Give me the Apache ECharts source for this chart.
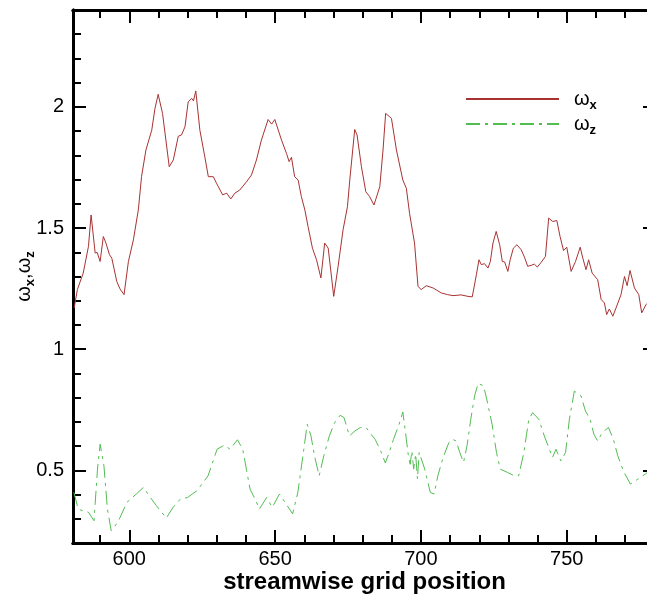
<!DOCTYPE html>
<html><head><meta charset="utf-8">
<script src="https://cdn.jsdelivr.net/npm/echarts@6/dist/echarts.min.js"></script>
<style>html,body{margin:0;padding:0;background:#fff}#c{width:647px;height:595px}</style>
</head><body><div id="c"></div>
<script>
// ---- data ----
const redX = [581.1,582.2,584.2,586.0,586.9,588.3,589.0,590.0,591.1,592.0,593.2,594.0,595.7,596.8,598.2,599.7,601.4,603.1,604.2,605.7,607.7,608.8,609.9,611.4,613.7,615.1,616.8,617.9,619.1,620.2,621.4,622.0,622.8,624.2,625.9,627.1,628.8,629.9,632.0,633.4,634.8,636.2,637.9,640.2,641.9,643.6,645.3,647.6,648.8,649.9,652.2,653.9,654.8,655.6,656.7,657.9,659.0,660.2,661.3,662.8,664.2,665.7,667.0,668.2,670.1,671.6,673.3,674.8,675.6,677.3,678.1,679.6,681.1,682.4,683.9,685.9,687.0,687.9,689.2,689.9,691.6,693.8,695.0,696.1,697.8,699.0,700.1,701.8,704.1,707.0,709.2,711.0,713.8,716.1,717.6,719.0,719.9,720.7,721.8,723.0,723.8,724.7,725.8,727.0,727.9,728.7,729.8,730.6,731.7,732.9,734.4,735.5,736.6,737.8,738.9,739.9,741.2,742.7,743.8,745.2,746.6,747.7,748.9,750.0,751.5,753.0,754.6,755.5,756.6,757.5,758.7,760.6,761.8,762.9,763.7,764.6,765.8,766.9,768.6,769.8,770.7,771.7,773.2,774.7,775.7,777.2,778.5];
const redY = [1.17,1.246,1.314,1.424,1.554,1.397,1.399,1.362,1.465,1.438,1.390,1.376,1.280,1.249,1.225,1.362,1.451,1.575,1.712,1.822,1.904,1.993,2.052,1.973,1.753,1.781,1.879,1.884,1.918,2.021,2.035,2.025,2.066,1.904,1.794,1.712,1.712,1.685,1.637,1.644,1.620,1.644,1.657,1.691,1.719,1.781,1.863,1.948,1.929,1.948,1.863,1.808,1.774,1.792,1.712,1.698,1.630,1.575,1.506,1.417,1.369,1.294,1.438,1.417,1.218,1.342,1.493,1.588,1.698,1.907,1.884,1.753,1.650,1.630,1.595,1.671,1.822,1.973,1.960,1.952,1.822,1.698,1.664,1.561,1.438,1.259,1.246,1.262,1.253,1.232,1.225,1.221,1.224,1.218,1.216,1.307,1.369,1.349,1.353,1.335,1.362,1.438,1.486,1.431,1.362,1.360,1.321,1.369,1.417,1.431,1.410,1.380,1.342,1.346,1.351,1.339,1.358,1.383,1.541,1.527,1.531,1.465,1.407,1.421,1.321,1.362,1.421,1.376,1.328,1.369,1.314,1.287,1.205,1.191,1.143,1.166,1.136,1.170,1.225,1.300,1.262,1.325,1.253,1.225,1.150,1.184,1.20];
const greenX = [581.0,582.5,584.1,586.0,587.9,589.1,590.0,591.3,592.5,593.8,596.1,599.2,602.4,604.9,606.8,609.3,612.7,615.0,617.5,620.0,623.2,627.0,630.1,632.6,634.5,637.1,638.9,641.4,643.4,644.6,647.1,649.0,651.5,653.4,656.0,657.8,659.7,661.0,662.3,663.5,665.1,666.7,668.6,670.4,672.3,673.6,675.5,677.4,679.3,681.2,682.4,684.3,686.2,687.8,689.1,690.6,692.5,693.8,694.7,695.7,696.3,696.9,697.5,698.2,698.8,699.4,701.3,703.2,704.5,705.8,707.6,709.6,710.8,712.1,713.3,714.6,715.8,717.1,718.4,719.6,721.5,722.7,724.4,725.9,727.2,729.7,731.6,733.5,735.3,737.0,738.3,740.4,742.3,743.6,745.1,746.3,748.0,749.6,750.9,752.6,754.9,756.4,758.0,759.3,760.6,762.2,764.3,766.0,767.5,769.4,771.8,774.4,776.9,778.5];
const greenY = [0.409,0.340,0.333,0.327,0.292,0.505,0.608,0.519,0.340,0.251,0.286,0.368,0.402,0.430,0.395,0.354,0.303,0.347,0.381,0.388,0.416,0.477,0.587,0.604,0.587,0.626,0.587,0.423,0.374,0.340,0.388,0.347,0.402,0.368,0.320,0.409,0.574,0.690,0.642,0.560,0.477,0.560,0.642,0.697,0.727,0.718,0.642,0.663,0.677,0.677,0.656,0.628,0.580,0.530,0.574,0.628,0.690,0.741,0.656,0.560,0.525,0.580,0.505,0.567,0.464,0.574,0.505,0.409,0.402,0.477,0.553,0.615,0.628,0.621,0.574,0.533,0.601,0.711,0.807,0.859,0.848,0.786,0.690,0.574,0.505,0.491,0.480,0.477,0.574,0.711,0.738,0.711,0.642,0.601,0.553,0.587,0.539,0.574,0.711,0.827,0.807,0.745,0.711,0.649,0.621,0.656,0.677,0.628,0.560,0.498,0.443,0.464,0.484,0.50];
const seriesNames = ['ωx', 'ωz'];
const xMajorTicks = [600, 650, 700, 750];
const xMinorTicks = [590,600,610,620,630,640,650,660,670,680,690,700,710,720,730,740,750,760,770];
const yMajorTicks = [0.5, 1, 1.5, 2];
const yMinorTicks = [0.3,0.4,0.5,0.6,0.7,0.8,0.9,1.0,1.1,1.2,1.3,1.4,1.5,1.6,1.7,1.8,1.9,2.0,2.1,2.2,2.3];
const xTitle = 'streamwise grid position';

// ---- chart ----
const FONT = '"Liberation Sans", Arial, sans-serif';
const X_MIN = 580.7, X_MAX = 780.6, Y_MIN = 0.2, Y_MAX = 2.4;
const zip = (a, b) => a.map((v, i) => [v, b[i]]);
const subRich = {
  w: { fontFamily: FONT, fontSize: 20, color: '#000', lineHeight: 26, verticalAlign: 'middle' },
  s: { fontFamily: FONT, fontSize: 13, fontWeight: 'bold', color: '#000', lineHeight: 26, verticalAlign: 'bottom' }
};
function axisDef(dim, pos, major, labels) {
  const isX = dim === 'x';
  const majorT = isX ? xMajorTicks : yMajorTicks;
  const minorT = isX ? xMinorTicks : yMinorTicks;
  return {
    type: 'value', position: pos,
    min: isX ? X_MIN : Y_MIN, max: isX ? X_MAX : Y_MAX,
    axisLine: { show: true, onZero: false, lineStyle: { color: '#000', width: 3 } },
    axisTick: { show: true, inside: true, length: major ? 13 : 8,
      lineStyle: { color: '#000', width: 2 }, customValues: major ? majorT : minorT },
    axisLabel: { show: labels, customValues: majorT, fontFamily: FONT, fontSize: 20,
      color: '#000', margin: isX ? 6 : 9 },
    splitLine: { show: false }
  };
}
const xB = axisDef('x', 'bottom', true, true);
xB.name = xTitle; xB.nameLocation = 'middle'; xB.nameGap = 27; xB.nameMoveOverlap = false;
xB.nameTextStyle = { fontFamily: FONT, fontSize: 24, fontWeight: 'bold', color: '#000' };
const yL = axisDef('y', 'left', true, true);
yL.name = '{w|ω}{s|x}{w|,ω}{s|z}'; yL.nameLocation = 'middle'; yL.nameGap = 36; yL.nameMoveOverlap = false;
yL.nameTextStyle = { rich: subRich };

const chart = echarts.init(document.getElementById('c'));
chart.setOption({
  animation: false,
  backgroundColor: '#fff',
  grid: { left: 73, top: 10, width: 583, height: 533, containLabel: false, outerBoundsMode: 'none' },
  xAxis: [axisDef('x', 'bottom', false, false), xB, axisDef('x', 'top', false, false), axisDef('x', 'top', true, false)],
  yAxis: [axisDef('y', 'left', false, false), yL, axisDef('y', 'right', false, false), axisDef('y', 'right', true, false)],
  legend: {
    left: 465, top: 89, padding: 0, orient: 'vertical', itemWidth: 93, itemHeight: 14, itemGap: 2,
    data: seriesNames,
    itemStyle: { opacity: 0 },
    formatter: n => n === 'ωx' ? '{w|ω}{s|x}' : '{w|ω}{s|z}',
    textStyle: { padding: [0, 0, 0, 10], rich: subRich }
  },
  series: [
    { type: 'line', name: seriesNames[0], xAxisIndex: 1, yAxisIndex: 1, data: zip(redX, redY),
      symbol: 'none', showSymbol: false, clip: true,
      lineStyle: { color: '#a83232', width: 1 }, itemStyle: { color: '#a83232' } },
    { type: 'line', name: seriesNames[1], xAxisIndex: 1, yAxisIndex: 1, data: zip(greenX, greenY),
      symbol: 'none', showSymbol: false, clip: true,
      lineStyle: { color: '#52bd52', width: 1, type: [14, 5, 3, 5] }, itemStyle: { color: '#52bd52' } }
  ]
});
</script></body></html>
